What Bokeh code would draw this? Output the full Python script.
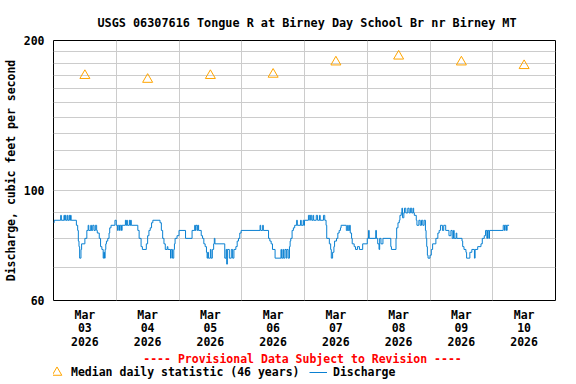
import pandas as pd
from bokeh.plotting import figure
from bokeh.layouts import column
from bokeh.models import (FixedTicker, DatetimeTickFormatter, NumeralTickFormatter,
                          Label, Legend, LegendItem, Range1d)
from bokeh.embed import file_html
from bokeh.resources import INLINE

# ---------------- data ----------------
title_text = "USGS 06307616 Tongue R at Birney Day School Br nr Birney MT"
y_label = "Discharge, cubic feet per second"
note_text = "---- Provisional Data Subject to Revision ----"
median_label = "Median daily statistic (46 years)"
discharge_label = "Discharge"

day_labels = ["2026-03-03", "2026-03-04", "2026-03-05", "2026-03-06",
              "2026-03-07", "2026-03-08", "2026-03-09", "2026-03-10"]
median_cfs = [170, 167, 170, 171, 181, 186, 181, 178]

y_ticks = [60, 100, 200]
y_grid = [70, 80, 90, 100, 110, 120, 130, 140, 150, 160, 170, 180, 190]

# hours after 2026-03-03 00:00 at which the reported discharge changes
disch_hours = [
    0.0, 0.25, 2.75, 3.0, 4.0, 4.25, 4.5, 4.75, 5.25, 5.5, 6.0, 6.25, 6.5, 6.75,
    8.75, 9.25, 9.5, 9.75, 10.0, 10.5, 10.75, 12.0, 12.75, 13.25, 13.5, 14.25,
    14.5, 15.0, 15.5, 16.0, 16.5, 16.75, 17.5, 18.0, 18.5, 19.0, 19.25, 19.5,
    19.75, 20.0, 20.25, 20.75, 21.25, 21.5, 22.0, 23.5, 24.0, 24.5, 24.75, 25.25,
    25.5, 26.0, 26.25, 27.5, 27.75, 28.0, 28.25, 29.0, 29.25, 29.5, 29.75, 32.25,
    32.75, 33.5, 34.0, 35.5, 36.0, 36.5, 37.0, 37.5, 38.0, 40.75, 41.25, 41.75,
    42.25, 42.75, 43.5, 43.75, 44.75, 45.0, 45.5, 46.0, 46.25, 46.5, 47.25, 48.0,
    50.5, 53.0, 54.0, 54.25, 54.5, 55.0, 55.25, 55.5, 56.5, 57.0, 57.5, 58.0,
    58.5, 58.75, 59.0, 59.25, 60.0, 60.25, 60.75, 61.25, 61.5, 61.75, 65.5, 66.0,
    66.25, 66.5, 67.25, 68.0, 68.5, 69.0, 69.75, 70.25, 70.75, 71.25, 71.75, 79.0,
    79.25, 80.0, 80.25, 82.25, 82.75, 83.25, 83.75, 84.75, 87.0, 87.25, 87.75,
    88.0, 88.5, 89.0, 89.25, 89.75, 90.25, 90.5, 90.75, 91.25, 91.75, 92.25, 93.0,
    93.25, 94.5, 94.75, 95.5, 95.75, 96.0, 97.5, 98.0, 98.25, 98.75, 99.25, 99.5,
    100.5, 101.0, 101.75, 102.0, 103.25, 103.75, 104.25, 104.5, 105.5, 106.0,
    106.25, 106.75, 107.25, 107.5, 108.25, 108.75, 109.25, 109.75, 110.0, 112.0,
    112.5, 112.75, 113.25, 113.5, 114.0, 114.25, 115.0, 115.5, 116.25, 117.0,
    118.25, 120.0, 120.5, 120.75, 123.25, 123.5, 124.0, 124.5, 124.75, 125.25,
    126.0, 129.0, 129.25, 131.0, 131.25, 131.75, 132.25, 132.5, 133.0, 133.25,
    133.5, 134.0, 134.25, 134.75, 135.5, 136.0, 136.5, 137.0, 137.5, 137.75,
    138.0, 138.75, 139.0, 139.75, 140.25, 140.75, 141.25, 141.75, 142.25, 142.5,
    142.75, 143.0, 143.25, 144.0, 144.5, 145.0, 146.25, 147.0, 147.5, 148.0,
    148.75, 149.25, 150.0, 151.25, 152.0, 152.5, 153.0, 153.25, 154.0, 154.25,
    156.25, 156.5, 157.0, 157.75, 158.0, 159.25, 160.0, 161.0, 161.25, 162.25,
    163.5, 164.0, 164.75, 165.25, 165.75, 166.0, 166.5, 166.75, 172.0, 172.5,
    172.75, 173.25, 173.5, 174.25,
]
discharge_cfs = [
    86, 87, 89, 87, 89, 87, 89, 87, 89, 87, 89, 87, 89, 87,
    85, 83, 79, 77, 73, 76, 78, 80, 83, 85, 83, 85,
    83, 85, 83, 85, 83, 82, 80, 77, 76, 73, 75, 73,
    76, 78, 79, 80, 82, 84, 85, 87, 85, 83, 85, 83,
    85, 83, 85, 87, 85, 87, 85, 87, 85, 87, 85, 83,
    80, 77, 76, 78, 81, 83, 84, 86, 87, 86, 83, 80,
    78, 76, 77, 76, 73, 76, 73, 76, 78, 80, 81, 83,
    80, 83, 85, 83, 85, 83, 85, 83, 81, 80, 78, 77,
    75, 73, 75, 73, 76, 73, 76, 78, 80, 78, 73, 76,
    71, 76, 73, 76, 73, 76, 77, 79, 80, 82, 83, 85,
    83, 85, 83, 80, 79, 78, 76, 73, 76, 73, 76,
    73, 76, 73, 76, 73, 77, 79, 80, 83, 84, 85, 87,
    85, 87, 85, 87, 85, 87, 89, 87, 89, 87, 89, 87,
    89, 87, 89, 87, 89, 87, 85, 80, 78, 76,
    73, 75, 77, 79, 80, 82, 83, 84, 85, 83,
    85, 83, 85, 82, 80, 78, 77, 76, 77, 76,
    78, 80, 83, 80, 83, 80, 78, 76, 80, 78,
    80, 77, 76, 80, 84, 86, 87, 89, 90, 92,
    88, 90, 92, 90, 92, 90, 92, 90, 92, 90,
    89, 87, 85, 87, 85, 87, 85, 87, 83, 80,
    77, 74, 73, 74, 76, 78, 80, 82, 83, 85,
    83, 85, 83, 81, 83, 80, 83, 80, 82, 80,
    79, 77, 76, 75, 73, 75, 76, 73, 76, 77,
    78, 80, 81, 83, 80, 83, 80, 83, 85, 83,
    85, 83, 85, 85,
]

# ---------------- derived ----------------
start = pd.Timestamp("2026-03-03 00:00")
end = start + pd.Timedelta(days=len(day_labels))
days = pd.to_datetime(day_labels)
noons = days + pd.Timedelta(hours=12)
times = start + pd.to_timedelta(disch_hours, unit="h")


def to_ms(ts):
    return [t.value / 1e6 for t in ts]


noon_ms = to_ms(noons)
midnight_ms = to_ms(days[1:])

FONT = "DejaVu Sans Mono"
BLUE = "#0a80d2"
ORANGE = "#FFA500"
GRID = "#cccccc"

# ---------------- main chart ----------------
p = figure(width=576, height=352, x_axis_type="datetime", y_axis_type="log",
           x_range=Range1d(start, end), y_range=Range1d(60, 200),
           output_backend="svg", toolbar_location=None,
           min_border_left=51, min_border_right=21, min_border_top=40,
           min_border_bottom=52)

p.background_fill_color = "white"
p.border_fill_color = "white"
p.outline_line_color = "black"
p.outline_line_width = 1

p.title.text = title_text
p.title.align = "left"
p.title.offset = 44
p.title.standoff = 21
p.title.text_font = FONT
p.title.text_font_style = "bold"
p.title.text_font_size = "11.8px"
p.title.text_color = "black"

p.step(times, discharge_cfs, mode="after", line_color=BLUE, line_width=1)
p.scatter(noons, median_cfs, marker="triangle", size=10,
          line_color=ORANGE, fill_color=None, line_width=1)

xa = p.xaxis[0]
xa.ticker = FixedTicker(ticks=noon_ms)
fmt = "%b\n%d\n%Y"
xa.formatter = DatetimeTickFormatter(microseconds=fmt, milliseconds=fmt, seconds=fmt,
                                     minsec=fmt, minutes=fmt, hourmin=fmt, hours=fmt,
                                     days=fmt, months=fmt, years=fmt)
xa.major_label_text_font = FONT
xa.major_label_text_font_style = "bold"
xa.major_label_text_font_size = "11.5px"
xa.major_label_text_line_height = 0.98
xa.major_label_text_color = "black"
xa.major_label_standoff = 7
xa.major_tick_out = 0
xa.major_tick_in = 0
xa.minor_tick_out = 0
xa.minor_tick_in = 0
xa.major_tick_line_color = None
xa.minor_tick_line_color = None
xa.axis_line_color = None

ya = p.yaxis[0]
ya.ticker = FixedTicker(ticks=y_ticks)
ya.formatter = NumeralTickFormatter(format="0")
ya.major_label_text_font = FONT
ya.major_label_text_font_style = "bold"
ya.major_label_text_font_size = "11.5px"
ya.major_label_text_color = "black"
ya.major_label_standoff = 9
ya.major_tick_out = 0
ya.major_tick_in = 0
ya.minor_tick_out = 0
ya.minor_tick_in = 0
ya.major_tick_line_color = None
ya.minor_tick_line_color = None
ya.axis_line_color = None
ya.axis_label = y_label
ya.axis_label_text_font = FONT
ya.axis_label_text_font_style = "bold"
ya.axis_label_text_font_size = "11.5px"
ya.axis_label_text_color = "black"
ya.axis_label_standoff = 3

p.xgrid.ticker = FixedTicker(ticks=midnight_ms)
p.ygrid.ticker = FixedTicker(ticks=y_grid)
p.xgrid.grid_line_color = GRID
p.ygrid.grid_line_color = GRID

# ---------------- footer: note + legend ----------------
foot = figure(width=576, height=32, x_range=Range1d(0, 1), y_range=Range1d(0, 1),
              output_backend="svg", toolbar_location=None,
              x_axis_location=None, y_axis_location=None,
              min_border=0, min_border_left=0, min_border_right=0,
              min_border_top=0, min_border_bottom=0)
foot.outline_line_color = None
foot.grid.visible = False
foot.background_fill_color = "white"
foot.border_fill_color = "white"

# positions below are relative to the footer frame, which the column aligns with the chart frame
foot.add_layout(Label(x=249, y=26, x_units="screen", y_units="screen",
                      text=note_text, text_align="center", text_baseline="middle",
                      text_color="red", text_font=FONT, text_font_style="bold",
                      text_font_size="11.5px"))

# hidden copies of the two series, used only to draw the legend glyphs
leg_tri = foot.scatter(noon_ms, median_cfs, marker="triangle", size=10,
                       line_color=ORANGE, fill_color=None, line_width=1, visible=False)
leg_line = foot.line(to_ms(times), discharge_cfs, line_color=BLUE, line_width=1,
                     visible=False)

common = dict(orientation="horizontal", padding=0, margin=0, spacing=0,
              border_line_color=None, background_fill_alpha=0,
              label_text_font=FONT, label_text_font_style="bold",
              label_text_font_size="11.5px", label_text_color="black")
leg1 = Legend(items=[LegendItem(label=median_label, renderers=[leg_tri])],
              location=(-9, 0), glyph_width=25, glyph_height=24,
              label_standoff=2, **common)
leg2 = Legend(items=[LegendItem(label=discharge_label, renderers=[leg_line])],
              location=(256, 0), glyph_width=18, glyph_height=24,
              label_standoff=6, **common)
foot.add_layout(leg1, "center")
foot.add_layout(leg2, "center")

layout = column(p, foot, spacing=0)
open("out.html", "w").write(file_html(layout, INLINE))
